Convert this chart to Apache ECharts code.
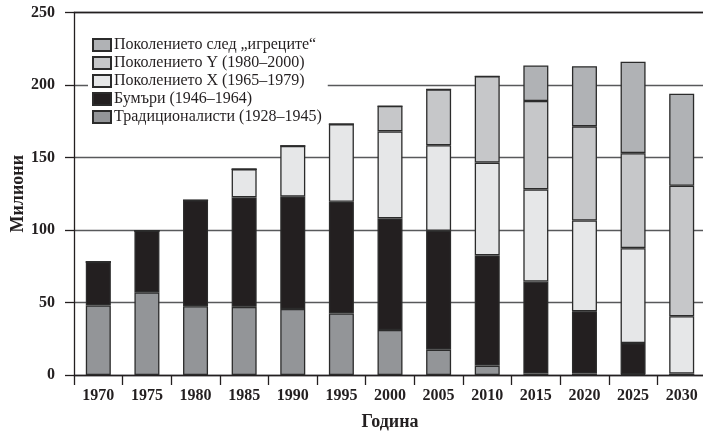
<!DOCTYPE html>
<html>
<head>
<meta charset="utf-8">
<script src="https://cdn.jsdelivr.net/npm/echarts@6/dist/echarts.min.js"></script>
<style>html,body{margin:0;padding:0;background:#fff}#c{width:703px;height:431px}</style>
</head>
<body>
<div id="c"></div>
<script>
const years = ['1970','1975','1980','1985','1990','1995','2000','2005','2010','2015','2020','2025','2030'];
const traditionalists = [48, 57, 47.5, 47, 45.5, 42.5, 31, 17.5, 6.5, 1, 1, 0.5, 0];
const boomers        = [30, 42.5, 73, 75.5, 77.5, 77, 77, 82, 76, 63.5, 43, 21.5, 1];
const genX           = [0, 0, 0, 19.5, 35, 53.5, 60, 59, 64, 63.5, 62.5, 65.5, 39.5];
const genY           = [0, 0, 0, 0, 0, 0, 17.5, 38.5, 59.5, 61, 65, 65.5, 90];
const genPost        = [0, 0, 0, 0, 0, 0, 0, 0, 0, 24.5, 41.5, 63, 63.5];
const names = ['Традиционалисти (1928–1945)','Бумъри (1946–1964)','Поколението X (1965–1979)','Поколението Y (1980–2000)','Поколението след „игреците“'];
const colors = ['#939598','#231f20','#e6e7e8','#c6c7c9','#b0b2b5'];
const yTicks = [0, 50, 100, 150, 200, 250];

const serif = '"Liberation Serif", "DejaVu Serif", serif';
const seriesData = [traditionalists, boomers, genX, genY, genPost];
const chart = echarts.init(document.getElementById('c'));
chart.setOption({
  animation: false,
  backgroundColor: '#fff',
  grid: {left: 74, top: 12.5, width: 632, bottom: 56, containLabel: false, outerBoundsMode: 'none'},
  legend: {
    orient: 'vertical', left: 88, top: 35,
    data: [names[4], names[3], names[2], names[1], names[0]],
    itemWidth: 18, itemHeight: 12, itemGap: 2,
    backgroundColor: '#fff', padding: [2, 6, 2, 4],
    textStyle: {fontFamily: serif, fontSize: 16, color: '#231f20', lineHeight: 14, padding: [0,0,0,-2]},
    icon: 'rect'
  },
  xAxis: [{
    type: 'category', data: years, boundaryGap: true,
    axisLine: {lineStyle: {color: '#231f20', width: 1.3}},
    axisTick: {show: true, length: 10, lineStyle: {color: '#231f20', width: 1.3}},
    axisLabel: {fontFamily: serif, fontWeight: 'bold', fontSize: 16, color: '#231f20', margin: 13},
    name: 'Година', nameLocation: 'middle', nameGap: 38,
    nameTextStyle: {fontFamily: serif, fontWeight: 'bold', fontSize: 18, color: '#231f20'}
  }, {
    type: 'category', data: years, position: 'top',
    axisLine: {show: true, lineStyle: {color: '#231f20', width: 1.3}},
    axisTick: {show: false}, axisLabel: {show: false}
  }],
  yAxis: {
    type: 'value', min: yTicks[0], max: yTicks[yTicks.length-1], interval: 50,
    axisLine: {show: true, lineStyle: {color: '#231f20', width: 1.3}},
    axisTick: {show: true, length: 9, lineStyle: {color: '#231f20', width: 1.3}},
    axisLabel: {fontFamily: serif, fontWeight: 'bold', fontSize: 16, color: '#231f20', margin: 19},
    splitLine: {show: true, lineStyle: {color: '#58595b', width: 1.3}},
    name: 'Милиони', nameLocation: 'middle', nameGap: 47, nameMoveOverlap: false,
    nameTextStyle: {fontFamily: serif, fontWeight: 'bold', fontSize: 18, color: '#231f20'}
  },
  series: seriesData.map((d, i) => ({
    name: names[i], type: 'bar', stack: 'total', data: d,
    barWidth: 25,
    itemStyle: {color: colors[i], borderColor: '#2b2b2b', borderWidth: 1.3}
  }))
});
</script>
</body>
</html>
